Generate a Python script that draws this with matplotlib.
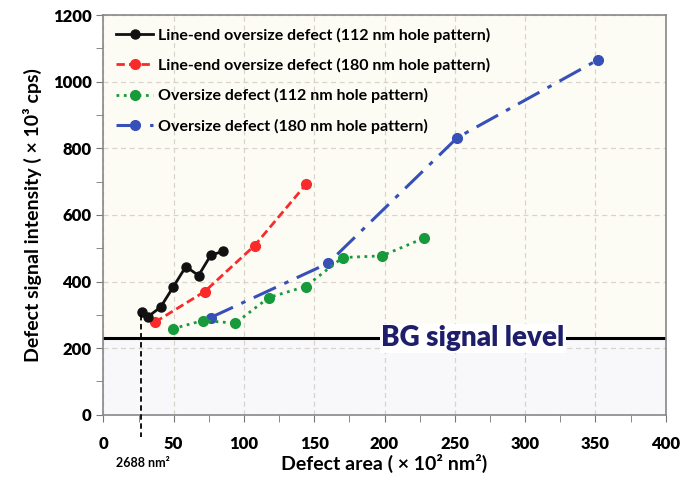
import matplotlib.pyplot as plt
from matplotlib.ticker import MultipleLocator

plt.rcParams['font.family'] = ['Lato', 'DejaVu Sans']
plt.rcParams['font.weight'] = 'bold'
plt.rcParams['axes.labelweight'] = 'bold'

# series (x in 10^2 nm^2, y in 10^3 cps)
le112_x = [27.2, 31.9, 40.7, 49.6, 58.7, 67.7, 76.4, 85.4]
le112_y = [308, 295, 323, 383, 445, 418, 479, 491]

le180_x = [36.7, 72.1, 107.6, 144.2]
le180_y = [278, 370, 508, 692]

os112_x = [49.2, 70.9, 93.9, 117.7, 143.8, 170.2, 198.1, 227.9]
os112_y = [258, 283, 275, 352, 385, 472, 477, 530]

os180_x = [76.4, 159.9, 251.8, 351.6]
os180_y = [292, 455, 832, 1065]

labels = ['Line-end oversize defect (112 nm hole pattern)',
          'Line-end oversize defect (180 nm hole pattern)',
          'Oversize defect (112 nm hole pattern)',
          'Oversize defect (180 nm hole pattern)']

bg_level = 230
min_area = 26.88

fig = plt.figure(figsize=(6.8, 4.84), dpi=100)
ax = fig.add_axes([0.152, 0.143, 0.827, 0.826])

ax.axhspan(bg_level, 1200, color='#fdfcf4', zorder=0)
ax.axhspan(0, bg_level, color='#f8f8fa', zorder=0)

ax.plot(le112_x, le112_y, '-', color='#111111', lw=2, marker='o', ms=6.5,
        label=labels[0], zorder=5)
ax.plot(le180_x, le180_y, '--', color='#f82a2a', lw=2, marker='o', ms=7,
        dashes=(3, 1.5), label=labels[1], zorder=4)
ax.plot(os112_x, os112_y, ':', color='#179a3c', lw=2, marker='o', ms=7,
        label=labels[2], zorder=4)
ax.plot(os180_x, os180_y, '-.', color='#3650b8', lw=2.2, marker='o', ms=7,
        dashes=(8, 3, 1.5, 3), label=labels[3], zorder=3)

ax.axhline(bg_level, color='black', lw=2.2, zorder=2)
ax.text(263, bg_level, 'BG signal level', fontsize=20, color='#1e1e6a',
        ha='center', va='center', zorder=6, fontweight='heavy',
        bbox=dict(facecolor='white', edgecolor='none', pad=1))

# minimum area marker
ax.plot([min_area, min_area], [300, -66], '--', color='black', lw=1.3,
        dashes=(3, 2), clip_on=False, zorder=6)
ax.text(min_area + 1, -145, '2688 nm²', fontsize=9, ha='center', va='center')

ax.set_xlim(0, 400)
ax.set_ylim(0, 1200)
ax.xaxis.set_major_locator(MultipleLocator(50))
ax.xaxis.set_minor_locator(MultipleLocator(25))
ax.yaxis.set_major_locator(MultipleLocator(200))
ax.yaxis.set_minor_locator(MultipleLocator(100))
ax.grid(True, which='major', color='#d8d4cc', ls=(0, (4, 3)), lw=0.9)
ax.set_axisbelow(True)
ax.tick_params(which='both', direction='out', length=5, color='#777777',
               labelsize=12)
ax.tick_params(axis='x', pad=10)
for s in ax.spines.values():
    s.set_color('#888888')
    s.set_linewidth(1.2)

ax.set_xlabel('Defect area ( × 10² nm²)', fontsize=14, labelpad=2)
ax.set_ylabel('Defect signal intensity ( × 10³ cps)', fontsize=14, labelpad=8)

ax.legend(loc='upper left', frameon=False, fontsize=11.5, handlelength=2.3,
          handletextpad=0.3, labelspacing=0.95, borderaxespad=0.4)

fig.canvas.draw()
plt.setp(ax.get_xticklabels() + ax.get_yticklabels(), fontweight='heavy')

fig.savefig('out.png', dpi=100)
